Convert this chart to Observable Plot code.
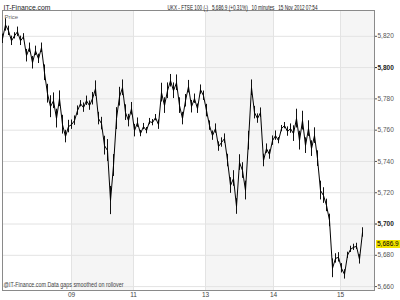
<!DOCTYPE html>
<html><head><meta charset="utf-8">
<script src="https://cdn.jsdelivr.net/npm/d3@7"></script>
<script src="https://cdn.jsdelivr.net/npm/@observablehq/plot@0.6"></script>
<style>
body{margin:0;background:#fff;}
#wrap{position:relative;width:400px;height:300px;}
#last{position:absolute;left:376px;height:8px;line-height:8px;padding:0 1px;background:#f2e400;font:6.5px "Liberation Sans",sans-serif;color:#000;}
</style>
</head><body><div id="wrap"></div>
<script>
const prices = [
5818.4, 5827.3, 5823.5, 5817.1, 5820.3, 5822.9, 5817.1, 5819.7, 5807.6, 5812.7,
5803.1, 5810.7, 5805.6, 5812.7, 5796.7, 5783.3, 5775.0, 5778.8, 5767.4, 5780.1,
5763.5, 5755.9, 5762.3, 5763.5, 5766.1, 5772.5, 5776.9, 5774.4, 5778.8, 5775.7,
5780.1, 5786.5, 5767.4, 5764.2, 5750.1, 5747.0, 5715.0, 5737.4, 5767.4, 5781.4,
5787.1, 5771.2, 5766.1, 5773.7, 5759.7, 5764.8, 5757.8, 5762.3, 5759.7, 5765.5,
5764.8, 5768.0, 5763.5, 5784.0, 5775.7, 5785.2, 5791.6, 5785.2, 5790.3, 5775.7,
5767.4, 5778.8, 5787.8, 5775.0, 5780.1, 5773.7, 5785.9, 5782.0, 5772.5, 5762.9,
5756.5, 5761.0, 5749.5, 5752.1, 5754.6, 5740.6, 5724.6, 5729.1, 5711.2, 5739.3,
5734.2, 5721.4, 5753.3, 5787.1, 5771.2, 5767.4, 5771.2, 5740.6, 5748.2, 5744.4,
5753.3, 5756.5, 5753.3, 5761.0, 5762.9, 5759.1, 5761.0, 5757.8, 5767.4, 5753.3,
5766.1, 5750.1, 5761.0, 5748.2, 5756.5, 5741.8, 5721.4, 5718.2, 5711.9, 5702.3,
5671.7, 5678.0, 5678.7, 5671.7, 5667.8, 5680.0, 5683.8, 5685.1, 5685.7, 5677.4,
5694.6
];
// estimated half of each bar's high-low range, read from the band thickness
const halfRange = [
3,4,3,3,2,3,3,2,4,3,4,3,3,3,
5,6,7,5,6,5,6,4,4,
3,3,3,2,3,3,3,4,5,4,4,
6,7,9,7,
7,6,5,5,4,4,4,
3,2,2,2,2,2,2,3,
6,5,5,4,5,5,5,4,4,4,4,3,3,3,3,4,
3,3,3,3,3,3,4,5,5,5,5,5,6,6,
5,4,3,3,4,3,3,3,
3,2,2,2,3,3,5,6,6,6,5,5,5,5,
5,6,5,4,4,6,
3,3,3,3,2,2,2,2,3,3
];
const dayLabels = ["09", "11", "13", "14", "15"];
const dayStarts = [23, 43.67, 67.67, 90.33, 112.67];
const shadedDays = [[23, 43.67], [67.67, 90.33], [112.67, 124]];
const yTicks = [5660, 5680, 5700, 5720, 5740, 5760, 5780, 5800, 5820];
const boldTicks = [5700, 5800];
const lastPrice = 5686.9;
const titleText = "IT-Finance.com";
const subtitleText = "UKX - FTSE 100 (-)   5,686.9 (+0.31%)   10 minutes   15 Nov 2012 07:54";
const footerText = "@IT-Finance.com Data gaps smoothed on rollover";
const yLabel = "Price";

const data = prices.map((p, i) => ({i, p, s: halfRange[i]}));
const fmt = d3.format(",");
const font = "Liberation Sans, sans-serif";

const chart = Plot.plot({
  width: 400, height: 300,
  marginTop: 10, marginBottom: 10, marginLeft: 2, marginRight: 26,
  style: {fontFamily: font, fontSize: "6.5px", background: "#fff", overflow: "visible"},
  x: {domain: [0, 124], axis: null},
  y: {domain: [5657.5, 5836.5], axis: null},
  marks: [
    Plot.rect(shadedDays, {x1: d => d[0], x2: d => d[1], fill: "#f5f5f5"}),
    Plot.gridY(yTicks, {stroke: "#e3e3e3", strokeOpacity: 1}),
    Plot.gridX(dayStarts, {stroke: "#e3e3e3", strokeOpacity: 1}),
    Plot.frame({stroke: "#8a8a8a"}),
    Plot.ruleX(data, {x: "i", y1: d => d.p - d.s, y2: d => d.p + d.s, stroke: "#111", strokeWidth: 1}),
    Plot.line(data, {x: "i", y: "p", stroke: "#000", strokeWidth: 1}),
    Plot.axisY(yTicks.filter(t => !boldTicks.includes(t)), {anchor: "right", label: null, tickSize: 2, tickPadding: 1, tickFormat: fmt, color: "#555"}),
    Plot.axisY(boldTicks, {anchor: "right", label: null, tickSize: 2, tickPadding: 1, tickFormat: fmt, color: "#222", fontWeight: "bold"}),
    Plot.text(dayLabels, {x: (d, i) => dayStarts[i], text: d => d, frameAnchor: "bottom", dy: 6, fill: "#444"}),
    Plot.text([titleText], {frameAnchor: "top-left", dx: 1, dy: -5, textAnchor: "start", fill: "#222", className: "t-title"}),
    Plot.text([subtitleText], {frameAnchor: "top", dx: -21, dy: -5, textAnchor: "start", fill: "#222", className: "t-sub"}),
    Plot.text([yLabel], {frameAnchor: "top-left", dx: 2, dy: 4, textAnchor: "start", fill: "#666", fontSize: 6}),
    Plot.text([footerText], {frameAnchor: "bottom-left", dx: 1, dy: -3.5, textAnchor: "start", fill: "#444", className: "t-foot"})
  ]
});
// fit the narrow header/footer fonts of the original
const fitText = (cls, len) => {
  chart.querySelectorAll(`.${cls} text`).forEach(t => {
    t.setAttribute("textLength", len);
    t.setAttribute("lengthAdjust", "spacingAndGlyphs");
  });
};
fitText("t-sub", 150);
fitText("t-foot", 120);
fitText("t-title", 47);

const wrap = document.getElementById("wrap");
wrap.appendChild(chart);
const yPix = chart.scale("y").apply(lastPrice);
const box = document.createElement("div");
box.id = "last";
box.textContent = d3.format(",.1f")(lastPrice);
box.style.top = (yPix - 4) + "px";
wrap.appendChild(box);
</script>
</body></html>
